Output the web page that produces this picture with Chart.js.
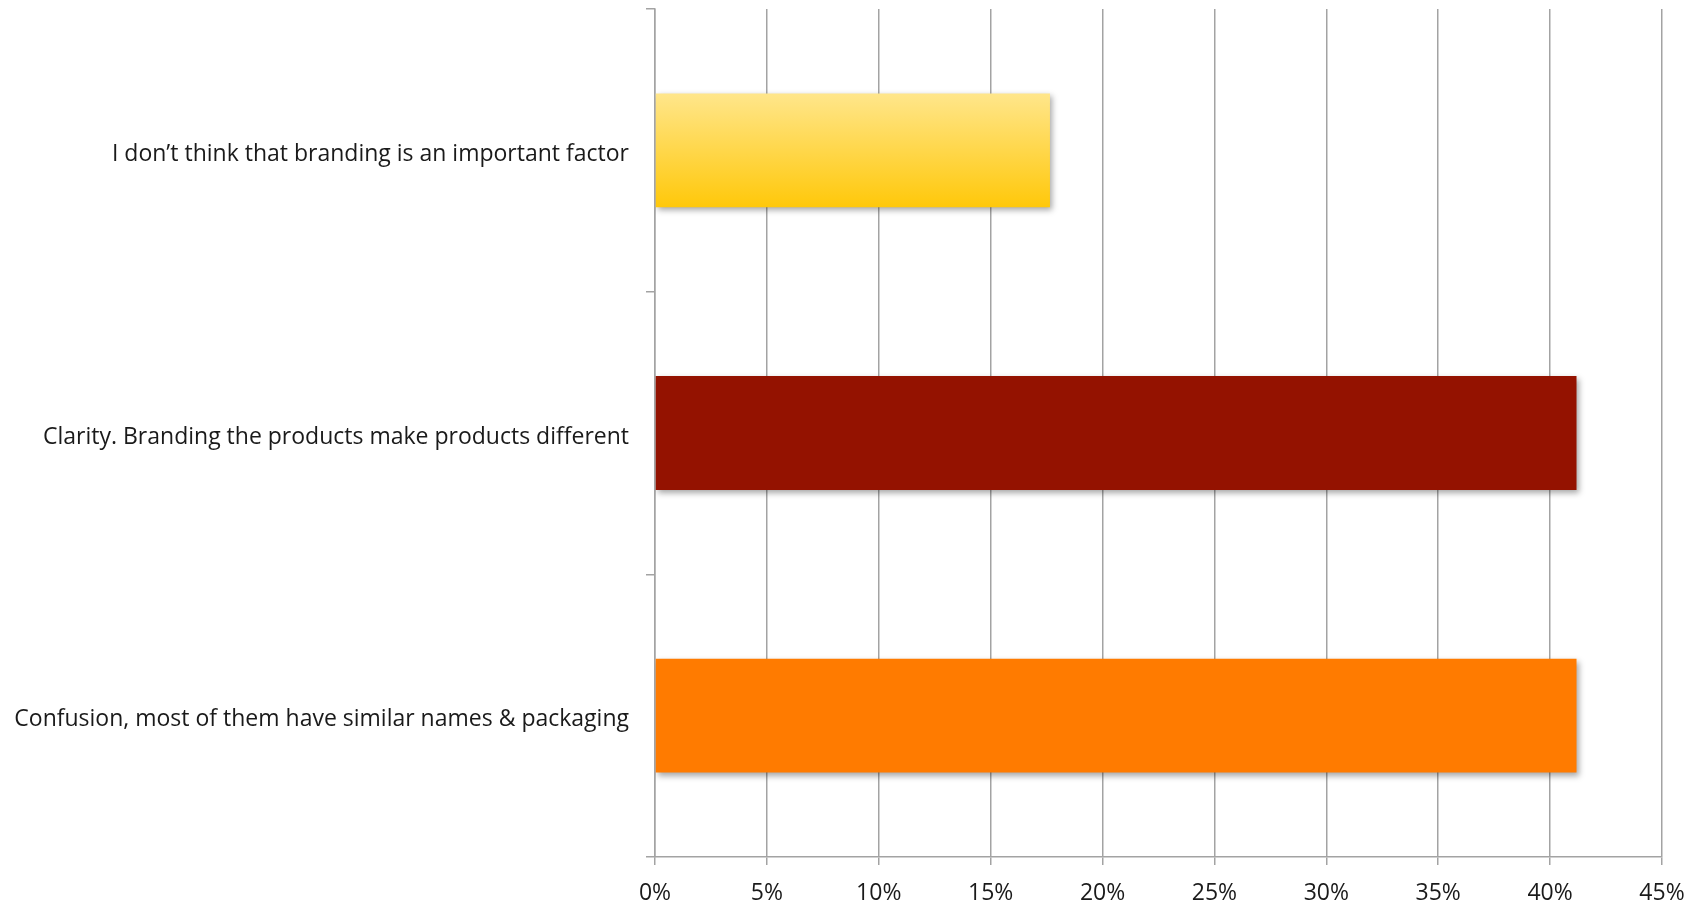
<!DOCTYPE html>
<html>
<head>
<meta charset="utf-8">
<script src="https://cdn.jsdelivr.net/npm/chart.js@4.4.1/dist/chart.umd.min.js"></script>
<style>
    html, body { margin: 0; padding: 0; background: #fff; }
    #wrap { width: 1703px; height: 905px; }
</style>
</head>
<body>
<div id="wrap"><canvas id="reasons"></canvas></div>
<script>
const categories = [
    'I don\u2019t think that branding is an important factor',
    'Clarity. Branding the products make products different',
    'Confusion, most of them have similar names & packaging',
];
const shares = [17.65, 41.18, 41.18];
const xTicks = [0, 5, 10, 15, 20, 25, 30, 35, 40, 45];

const BAR_PCT = 0.403;
const GRID = '#a3a3a3';
const FONT = { family: 'Open Sans, sans-serif', size: 23 };

// yellow bar gets a vertical gradient, the others are flat
function barColor(ctx) {
    const idx = ctx.dataIndex;
    if (idx === 1) return '#941200';
    if (idx === 2) return '#ff7b00';
    const chart = ctx.chart;
    const y = chart.scales.y;
    if (!chart.chartArea || !y) return '#fdd242';
    const mid = y.getPixelForValue(idx);
    const half = Math.abs(y.getPixelForValue(1) - y.getPixelForValue(0)) * BAR_PCT / 2;
    const g = chart.ctx.createLinearGradient(0, mid - half, 0, mid + half);
    g.addColorStop(0, '#ffe68b');
    g.addColorStop(1, '#ffc80a');
    return g;
}

// soft drop shadow under the bars
const barShadow = {
    id: 'barShadow',
    beforeDatasetsDraw(chart) {
        const c = chart.ctx;
        c.save();
        c.shadowColor = 'rgba(0,0,0,0.35)';
        c.shadowBlur = 6;
        c.shadowOffsetX = 2;
        c.shadowOffsetY = 3;
    },
    afterDatasetsDraw(chart) {
        chart.ctx.restore();
    },
};

new Chart(document.getElementById('reasons'), {
    type: 'bar',
    data: {
        labels: categories,
        datasets: [
            {
                data: shares,
                backgroundColor: barColor,
                borderWidth: 0,
                categoryPercentage: 1,
                barPercentage: BAR_PCT,
            },
        ],
    },
    options: {
        indexAxis: 'y',
        responsive: true,
        maintainAspectRatio: false,
        animation: false,
        layout: { padding: { top: 9, right: 41, bottom: 0, left: 0 } },
        plugins: {
            legend: { display: false },
            tooltip: { enabled: false },
        },
        scales: {
            x: {
                min: 0,
                max: 45,
                afterBuildTicks: (scale) => {
                    scale.ticks = xTicks.map((v) => ({ value: v }));
                },
                afterFit: (scale) => { scale.height = 48; },
                ticks: {
                    color: '#1a1a1a',
                    font: FONT,
                    padding: 15,
                    maxRotation: 0,
                    callback: (val) => val + '%',
                },
                grid: { color: GRID, lineWidth: 1.5, tickLength: 8 },
                border: { color: GRID, width: 1.5 },
            },
            y: {
                afterFit: (scale) => {
                    scale.width = 655;
                    scale.paddingTop = 0;
                    scale.paddingBottom = 0;
                },
                ticks: {
                    color: '#1a1a1a',
                    font: FONT,
                    padding: 17,
                    labelOffset: 4,
                },
                grid: {
                    drawOnChartArea: false,
                    color: GRID,
                    lineWidth: 1.5,
                    tickLength: 9,
                },
                border: { color: GRID, width: 1.5 },
            },
        },
    },
    plugins: [barShadow],
});
</script>
</body>
</html>
